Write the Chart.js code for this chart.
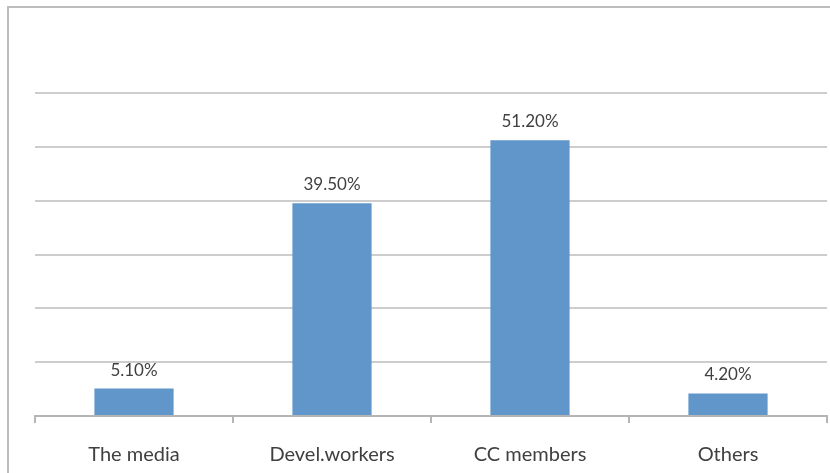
<!DOCTYPE html>
<html>
<head>
<meta charset="utf-8">
<script src="https://cdn.jsdelivr.net/npm/chart.js@4.4.1/dist/chart.umd.min.js"></script>
<style>
  html, body { margin: 0; padding: 0; background: #fff; }
  canvas { display: block; }
</style>
</head>
<body>
<canvas id="shareChart" width="830" height="473"></canvas>
<script>
const categories = ["The media", "Devel.workers", "CC members", "Others"];
const shares = [5.1, 39.5, 51.2, 4.2];
const valueLabels = ["5.10%", "39.50%", "51.20%", "4.20%"];

const textColor = "#404040";
const gridColor = "#cdcdcd";

// outer frame of the chart area (left and top edges)
const framePlugin = {
  id: "frame",
  beforeDraw(chart) {
    const ctx = chart.ctx;
    ctx.save();
    ctx.strokeStyle = "#bdbdbd";
    ctx.lineWidth = 2;
    ctx.beginPath();
    ctx.moveTo(8, chart.height);
    ctx.lineTo(8, 7);
    ctx.lineTo(chart.width, 7);
    ctx.stroke();
    ctx.restore();
  },
};

// percentage label above each bar
const valueLabelPlugin = {
  id: "valueLabels",
  afterDatasetsDraw(chart) {
    const ctx = chart.ctx;
    const meta = chart.getDatasetMeta(0);
    ctx.save();
    ctx.fillStyle = textColor;
    ctx.font = "17px Lato";
    ctx.textAlign = "center";
    ctx.textBaseline = "alphabetic";
    meta.data.forEach((bar, i) => {
      ctx.fillText(valueLabels[i], bar.x, bar.y - 13);
    });
    ctx.restore();
  },
};

function initChart() {
  const ctx = document.getElementById("shareChart").getContext("2d");
  new Chart(ctx, {
    type: "bar",
    data: {
      labels: categories,
      datasets: [
        {
          data: shares,
          backgroundColor: "#6096c9",
          borderWidth: 0,
          barPercentage: 0.4,
          categoryPercentage: 1,
        },
      ],
    },
    options: {
      responsive: false,
      animation: false,
      layout: {
        padding: { top: 93, left: 35, right: 3, bottom: 0 },
      },
      plugins: {
        legend: { display: false },
        tooltip: { enabled: false },
      },
      scales: {
        x: {
          grid: {
            drawOnChartArea: false,
            drawTicks: true,
            tickLength: 7,
            color: "#b5b5b5",
            lineWidth: 2,
          },
          border: { display: true, color: "#b5b5b5", width: 2 },
          ticks: {
            color: textColor,
            font: { family: "Lato", size: 20 },
            padding: 20,
            maxRotation: 0,
          },
          afterFit(scale) {
            scale.height = 57;
          },
        },
        y: {
          min: 0,
          max: 60,
          grid: {
            color: gridColor,
            lineWidth: 2,
            drawTicks: false,
          },
          border: { display: false },
          ticks: { display: false, stepSize: 10 },
          afterFit(scale) {
            scale.width = 0;
          },
        },
      },
    },
    plugins: [framePlugin, valueLabelPlugin],
  });
}

initChart();
</script>
</body>
</html>
